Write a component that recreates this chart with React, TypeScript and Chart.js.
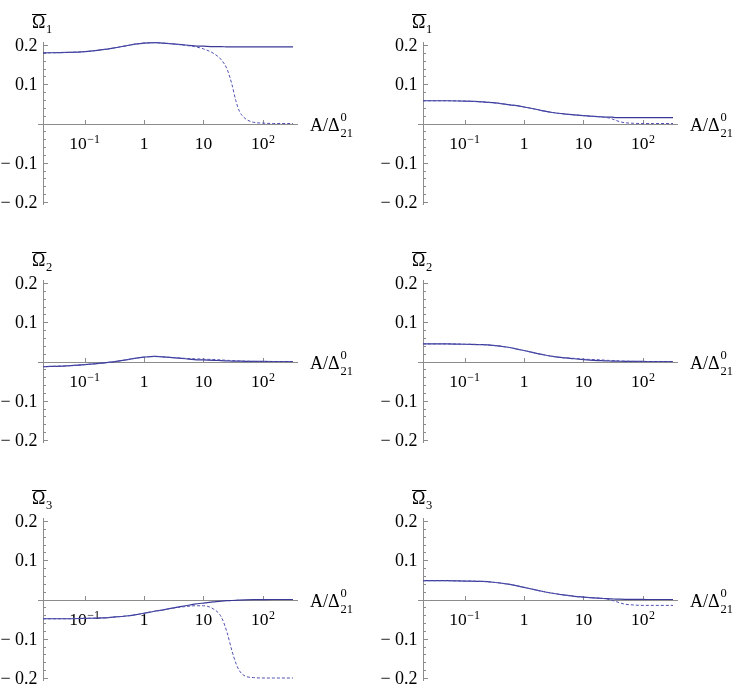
import React, { useEffect, useRef } from 'react';
import { Chart, registerables } from 'chart.js';

Chart.register(...registerables);

// ---------- data ----------
const xValues = [0.02, 0.05, 0.1, 0.2, 0.3, 0.5, 0.7, 1, 1.5, 2, 3, 5, 7, 10, 15, 20, 25, 30, 35, 40, 50, 70, 100, 150, 200, 320];

const omega1LeftSolid = [0.180, 0.181, 0.183, 0.188, 0.192, 0.198, 0.202, 0.205, 0.206, 0.205, 0.203, 0.200, 0.198, 0.197, 0.196, 0.196, 0.195, 0.195, 0.195, 0.195, 0.195, 0.195, 0.195, 0.195, 0.195, 0.195];
const omega1LeftDashed = [0.180, 0.181, 0.183, 0.188, 0.192, 0.198, 0.202, 0.205, 0.206, 0.205, 0.203, 0.199, 0.196, 0.190, 0.178, 0.162, 0.138, 0.100, 0.058, 0.032, 0.013, 0.003, 0.001, 0, 0, 0];

const omega1RightSolid = [0.058, 0.058, 0.057, 0.055, 0.053, 0.049, 0.046, 0.042, 0.037, 0.033, 0.028, 0.024, 0.022, 0.020, 0.018, 0.017, 0.016, 0.016, 0.015, 0.015, 0.015, 0.015, 0.015, 0.015, 0.015, 0.015];
const omega1RightDashed = [0.058, 0.058, 0.057, 0.055, 0.053, 0.049, 0.046, 0.042, 0.037, 0.033, 0.028, 0.024, 0.022, 0.020, 0.018, 0.017, 0.015, 0.012, 0.008, 0.005, 0.002, 0.0005, 0, 0, 0, 0];

const omega2LeftSolid = [-0.013, -0.011, -0.008, -0.004, -0.001, 0.004, 0.008, 0.011, 0.013, 0.012, 0.010, 0.007, 0.005, 0.004, 0.003, 0.002, 0.0015, 0.001, 0.001, 0.0008, 0.0005, 0.0003, 0.0001, 0, 0, 0];
const omega2LeftDashed = [-0.013, -0.011, -0.008, -0.004, -0.001, 0.004, 0.008, 0.011, 0.013, 0.012, 0.010, 0.008, 0.007, 0.006, 0.005, 0.004, 0.003, 0.0025, 0.002, 0.0015, 0.001, 0.0003, 0, 0, 0, 0];

const omega2RightSolid = [0.045, 0.045, 0.044, 0.043, 0.041, 0.037, 0.033, 0.028, 0.022, 0.018, 0.013, 0.009, 0.007, 0.005, 0.003, 0.002, 0.0015, 0.001, 0.0008, 0.0006, 0.0004, 0.0002, 0.0001, 0, 0, 0];
const omega2RightDashed = [0.045, 0.045, 0.044, 0.043, 0.041, 0.037, 0.033, 0.028, 0.022, 0.018, 0.013, 0.009, 0.008, 0.006, 0.005, 0.004, 0.003, 0.0025, 0.002, 0.0015, 0.001, 0.0003, 0, 0, 0, 0];

const omega3LeftSolid = [-0.049, -0.049, -0.048, -0.047, -0.045, -0.042, -0.039, -0.035, -0.030, -0.027, -0.022, -0.016, -0.012, -0.009, -0.006, -0.004, -0.003, -0.0025, -0.002, -0.0015, -0.001, -0.0005, -0.0002, 0, 0, 0];
const omega3LeftDashed = [-0.049, -0.049, -0.048, -0.047, -0.045, -0.042, -0.039, -0.035, -0.030, -0.027, -0.022, -0.018, -0.016, -0.016, -0.025, -0.045, -0.085, -0.130, -0.162, -0.181, -0.195, -0.199, -0.200, -0.200, -0.200, -0.200];

const omega3RightSolid = [0.048, 0.048, 0.047, 0.046, 0.044, 0.040, 0.036, 0.031, 0.025, 0.021, 0.016, 0.011, 0.008, 0.006, 0.004, 0.003, 0.002, 0.0015, 0.001, 0.0008, 0.0005, 0.0002, 0.0001, 0, 0, 0];
const omega3RightDashed = [0.048, 0.048, 0.047, 0.046, 0.044, 0.040, 0.036, 0.031, 0.025, 0.021, 0.016, 0.011, 0.008, 0.006, 0.004, 0.003, 0.001, -0.002, -0.005, -0.008, -0.012, -0.014, -0.015, -0.015, -0.015, -0.015];

const xTickValues = [0.1, 1, 10, 100];
const xTickBases = ['10', '1', '10', '10'];
const xTickExponents = ['\u22121', '', '', '2'];
const yTickValues = [-0.2, -0.1, 0.1, 0.2];
const yTickLabels = ['0.2', '0.1', '0.1', '0.2'];
const yTickNegative = [true, true, false, false];
const yMinorStep = 0.02;
const panelSubscripts = ['1', '1', '2', '2', '3', '3'];
const xAxisLabelMain = 'A/\u0394';
const xAxisLabelSub = '21';
const xAxisLabelSup = '0';

const panelSeries = [
  [omega1LeftSolid, omega1LeftDashed],
  [omega1RightSolid, omega1RightDashed],
  [omega2LeftSolid, omega2LeftDashed],
  [omega2RightSolid, omega2RightDashed],
  [omega3LeftSolid, omega3LeftDashed],
  [omega3RightSolid, omega3RightDashed],
];

// ---------- styling ----------
const FONT = '"Liberation Serif", "Times New Roman", serif';
const AXIS_COLOR = '#8c8c8c';
const SOLID_COLOR = '#3a3a96';
const DASH_COLOR = '#5050b4';
const CANVAS_W = 356;
const CANVAS_H = 218;
const COL_X = [0, 380];
const ROW_Y = [0, 238, 476];

const mmaAxesPlugin = {
  id: 'mmaAxes',
  beforeDatasetsDraw(chart: any, _args: any, opts: any) {
    const { ctx, chartArea, scales } = chart;
    const xs = scales.x;
    const ys = scales.y;
    const y0 = Math.round(ys.getPixelForValue(0)) + 0.5;
    const xl = Math.round(chartArea.left) + 0.5;

    ctx.save();
    ctx.strokeStyle = AXIS_COLOR;
    ctx.lineWidth = 1;
    ctx.beginPath();
    // x axis (through y = 0)
    ctx.moveTo(chartArea.left - 5, y0);
    ctx.lineTo(chartArea.right + 5, y0);
    // y axis
    ctx.moveTo(xl, chartArea.top - 3);
    ctx.lineTo(xl, chartArea.bottom + 3);
    // y ticks (major + minor), pointing right
    const nMinor = Math.round(0.2 / yMinorStep);
    for (let i = -nMinor; i <= nMinor; i++) {
      if (i === 0) continue;
      const v = i * yMinorStep;
      const py = Math.round(ys.getPixelForValue(v)) + 0.5;
      const major = i % 5 === 0;
      ctx.moveTo(xl, py);
      ctx.lineTo(xl + (major ? 4.5 : 2.5), py);
    }
    // x ticks, pointing up
    xTickValues.forEach((v) => {
      const px = Math.round(xs.getPixelForValue(v)) + 0.5;
      ctx.moveTo(px, y0);
      ctx.lineTo(px, y0 - 4.5);
    });
    ctx.stroke();

    ctx.fillStyle = '#000';
    ctx.textBaseline = 'alphabetic';
    const mainSize = 17.5;
    const smallSize = 12;

    // y tick labels
    ctx.font = `18px ${FONT}`;
    yTickValues.forEach((v, i) => {
      const py = ys.getPixelForValue(v);
      ctx.textAlign = 'right';
      ctx.fillText(yTickLabels[i], xl - 6, py + 6);
      if (yTickNegative[i]) {
        ctx.textAlign = 'left';
        ctx.fillText('\u2212', 0.5, py + 6);
      }
    });

    // x tick labels
    ctx.textAlign = 'left';
    xTickValues.forEach((v, i) => {
      const px = xs.getPixelForValue(v);
      ctx.font = `${mainSize}px ${FONT}`;
      const wb = ctx.measureText(xTickBases[i]).width;
      ctx.font = `${smallSize}px ${FONT}`;
      const we = xTickExponents[i] ? ctx.measureText(xTickExponents[i]).width + 0.5 : 0;
      const start = px - (wb + we) / 2;
      const base = y0 + 24.5;
      ctx.font = `${mainSize}px ${FONT}`;
      ctx.fillText(xTickBases[i], start, base);
      if (xTickExponents[i]) {
        ctx.font = `${smallSize}px ${FONT}`;
        ctx.fillText(xTickExponents[i], start + wb + 0.5, base - 6.5);
      }
    });

    // x axis label A/Δ_21^0
    const lx = chartArea.right + 17;
    ctx.font = `${mainSize + 0.5}px ${FONT}`;
    ctx.fillText(xAxisLabelMain, lx, y0 + 6);
    const wm = ctx.measureText(xAxisLabelMain).width;
    ctx.font = `${smallSize + 0.5}px ${FONT}`;
    ctx.fillText(xAxisLabelSub, lx + wm + 1, y0 + 12.5);
    ctx.fillText(xAxisLabelSup, lx + wm + 1, y0 - 3.5);

    // y axis label Ω̄_n
    const ox = chartArea.left - 11;
    const oy = chartArea.top - 17;
    ctx.font = `${mainSize + 0.5}px ${FONT}`;
    ctx.fillText('\u03A9', ox, oy);
    const wo = ctx.measureText('\u03A9').width;
    ctx.font = `${smallSize + 0.5}px ${FONT}`;
    ctx.fillText(opts.sub, ox + wo + 0.5, oy + 4.5);
    ctx.beginPath();
    ctx.strokeStyle = '#000';
    ctx.lineWidth = 1;
    ctx.moveTo(ox, Math.round(oy - 14) + 0.5);
    ctx.lineTo(ox + wo + 1, Math.round(oy - 14) + 0.5);
    ctx.stroke();
    ctx.restore();
  },
};

function Panel({ index }: { index: number }) {
  const ref = useRef<HTMLCanvasElement>(null);
  useEffect(() => {
    if (!ref.current) return;
    const [solid, dashed] = panelSeries[index];
    const chart = new Chart(ref.current, {
      type: 'line',
      data: {
        datasets: [
          {
            label: 'dashed',
            data: xValues.map((x, i) => ({ x, y: dashed[i] })),
            borderColor: DASH_COLOR,
            borderWidth: 1,
            borderDash: [3, 2],
            pointRadius: 0,
            cubicInterpolationMode: 'monotone',
            clip: false,
          },
          {
            label: 'solid',
            data: xValues.map((x, i) => ({ x, y: solid[i] })),
            borderColor: SOLID_COLOR,
            borderWidth: 1.2,
            pointRadius: 0,
            cubicInterpolationMode: 'monotone',
            clip: false,
          },
        ],
      } as any,
      options: {
        responsive: false,
        animation: false,
        devicePixelRatio: 1,
        events: [],
        layout: { padding: { left: 43, right: 63, top: 45, bottom: 16 } },
        scales: {
          x: { type: 'logarithmic', min: 0.02, max: 320, display: false },
          y: { type: 'linear', min: -0.2, max: 0.2, display: false },
        },
        plugins: {
          legend: { display: false },
          tooltip: { enabled: false },
          mmaAxes: { sub: panelSubscripts[index] },
        } as any,
      },
      plugins: [mmaAxesPlugin],
    } as any);
    return () => chart.destroy();
  }, [index]);
  const col = index % 2;
  const row = Math.floor(index / 2);
  return (
    <canvas
      ref={ref}
      width={CANVAS_W}
      height={CANVAS_H}
      style={{ position: 'absolute', left: COL_X[col], top: ROW_Y[row], width: CANVAS_W, height: CANVAS_H }}
    />
  );
}

export default function App() {
  return (
    <div style={{ position: 'absolute', left: 0, top: 0, width: 736, height: 694, background: '#fff' }}>
      {[0, 1, 2, 3, 4, 5].map((i) => (
        <Panel key={i} index={i} />
      ))}
    </div>
  );
}
